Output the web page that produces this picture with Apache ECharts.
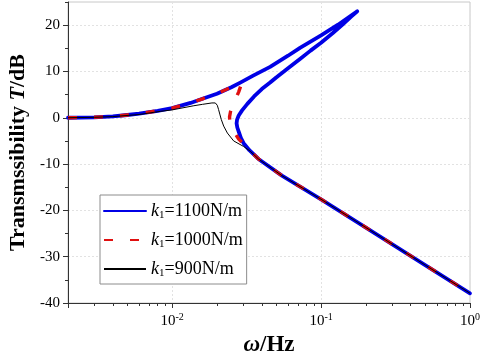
<!DOCTYPE html>
<html>
<head>
<meta charset="utf-8">
<script src="https://cdn.jsdelivr.net/npm/echarts@6/dist/echarts.min.js"></script>
<style>html,body{margin:0;padding:0;background:#fff}#c{width:489px;height:357px}</style>
</head>
<body>
<div id="c"></div>
<script>
// k1 = 1100 N/m : upper branch out to the tip, then back along the inner branch and down the lower branch
const blueX = [0.002,0.003,0.004,0.005,0.006,0.008,0.010,0.0133,0.016,0.020,0.025,0.0287,0.035,0.0455,0.060,0.0722,0.100,0.130,0.155,0.175,
               0.160,0.140,0.120,0.100,0.085,0.0722,0.060,0.050,0.0455,0.040,0.0355,0.032,0.0295,0.0280,0.0273,0.0271,0.0274,0.0280,0.0290,0.0302,0.033,0.038,0.0546,0.100,0.200,0.500,1.0];
const blueY = [0.0,0.1,0.3,0.6,0.9,1.5,2.1,3.2,4.1,5.2,6.6,7.6,9.1,11.0,13.4,15.1,17.8,20.1,21.8,23.0,
               21.9,20.2,18.3,16.2,14.5,12.7,10.7,8.7,7.6,6.2,4.6,3.0,1.6,0.5,-0.4,-1.2,-2.1,-3.0,-4.4,-5.5,-7.0,-8.9,-12.5,-17.6,-23.7,-31.8,-37.9];
// k1 = 1000 N/m
const redX = [0.002,0.003,0.004,0.005,0.006,0.008,0.010,0.0133,0.016,0.020,0.025,0.0287,0.0296,
              0.0290,0.0280,0.0268,0.0256,0.0247,0.0243,0.0244,0.0250,0.0262,0.0280,0.0302,0.038,0.0546,0.100,0.200,0.500,1.0];
const redY = [0.0,0.1,0.3,0.6,0.9,1.5,2.1,3.2,4.1,5.2,6.6,7.6,8.0,
              7.0,5.6,4.2,2.8,1.4,0.2,-0.8,-1.8,-3.2,-4.6,-5.7,-8.9,-12.5,-17.6,-23.7,-31.8,-37.9];
// k1 = 900 N/m
const blackX = [0.002,0.003,0.004,0.006,0.0084,0.010,0.0140,0.016,0.0185,0.0195,0.0201,0.0205,0.0209,0.0214,0.0222,0.0235,0.0259,0.0302,0.0334,0.038,0.0546,0.100,0.200,0.500,1.0];
const blackY = [0.0,0.1,0.25,0.7,1.4,1.7,2.6,2.9,3.2,3.2,2.7,1.8,0.8,-0.4,-1.8,-3.3,-5.0,-6.2,-7.2,-8.9,-12.5,-17.6,-23.7,-31.8,-37.9];

const seriesNames = ['k1=1100N/m','k1=1000N/m','k1=900N/m'];
const yTicks = [-40,-30,-20,-10,0,10,20];

function pairs(xs, ys){ return xs.map((x,i)=>[x, ys[i]]); }

const serif = 'Liberation Serif';
const chart = echarts.init(document.getElementById('c'), null, {renderer:'canvas'});
chart.setOption({
  animation:false,
  backgroundColor:'#fff',
  grid:{left:68,right:19,top:2,bottom:54,containLabel:false,outerBoundsMode:'none',show:true,borderColor:'#c8c8c8',borderWidth:1},
  legend:{
    data:seriesNames,
    orient:'vertical', left:100, top:195,
    itemWidth:42, itemHeight:14, itemGap:9,
    padding:[6,4,5,3],
    borderColor:'#8c8c8c', borderWidth:1, backgroundColor:'#fff',
    itemStyle:{opacity:0},
    formatter:function(n){ return '{i|k}{s|1}{t|=' + n.split('=')[1] + '}'; },
    textStyle:{color:'#000',fontFamily:serif,fontSize:18,
      rich:{
        i:{fontFamily:serif,fontStyle:'italic',fontSize:18,color:'#000',lineHeight:20},
        s:{fontFamily:serif,fontSize:11,color:'#000',verticalAlign:'bottom',padding:[9,0,0,0],lineHeight:20},
        t:{fontFamily:serif,fontSize:18,color:'#000',lineHeight:20}
      }}
  },
  xAxis:{
    type:'log', logBase:10, min:0.002, max:1,
    name:'{w|ω}{h|/Hz}', nameLocation:'middle', nameGap:24,
    nameTextStyle:{rich:{
      w:{fontFamily:serif,fontStyle:'italic',fontWeight:'bold',fontSize:23,color:'#000'},
      h:{fontFamily:serif,fontWeight:'bold',fontSize:23,color:'#000'}}},
    axisLine:{onZero:false,lineStyle:{color:'#333',width:1}},
    axisTick:{show:true,inside:false,length:5,lineStyle:{color:'#333'}},
    minorTick:{show:true,splitNumber:9,length:3,lineStyle:{color:'#333'}},
    axisLabel:{margin:9,showMinLabel:false,color:'#000',fontFamily:serif,fontSize:15,
      formatter:function(v){ const l=Math.log10(v); const e=Math.round(l); if(Math.abs(l-e)>1e-6) return ''; return '10{sup|'+e+'}'; },
      rich:{sup:{fontFamily:serif,fontSize:10,color:'#000',verticalAlign:'top',padding:[0,0,9,0]}}},
    splitLine:{show:true,lineStyle:{color:'#e2e2e2',type:[2,2],width:1}}
  },
  yAxis:[{
    type:'value', min:-40, max:25, interval:10,
    name:'{b|Transmssibility }{t|T}{b|/dB}', nameLocation:'middle', nameGap:39,
    nameTextStyle:{rich:{
      b:{fontFamily:serif,fontWeight:'bold',fontSize:22,color:'#000'},
      t:{fontFamily:serif,fontWeight:'bold',fontStyle:'italic',fontSize:22,color:'#000'}}},
    axisLine:{show:true,onZero:false,lineStyle:{color:'#333',width:1}},
    axisTick:{show:true,inside:false,length:5,lineStyle:{color:'#333'},customValues:yTicks},
    axisLabel:{margin:8,color:'#000',fontFamily:serif,fontSize:15,customValues:yTicks},
    splitLine:{show:true,lineStyle:{color:'#e2e2e2',type:[2,2],width:1}}
  },{
    type:'value', min:-40, max:25, interval:5, position:'left',
    axisLine:{show:false}, axisLabel:{show:false}, splitLine:{show:false},
    axisTick:{show:true,inside:false,length:3,lineStyle:{color:'#333'}}
  }],
  series:[
    {name:seriesNames[0],type:'line',data:pairs(blueX,blueY),showSymbol:false,symbol:'none',smooth:false,
     lineStyle:{color:'#0000e6',width:3.8,cap:'round',join:'round'},itemStyle:{color:'#0000e6'},z:2},
    {name:seriesNames[1],type:'line',data:pairs(redX,redY),showSymbol:false,symbol:'none',smooth:false,
     lineStyle:{color:'#e01010',width:3.4,type:[9,17],join:'round'},itemStyle:{color:'#e01010'},z:3},
    {name:seriesNames[2],type:'line',data:pairs(blackX,blackY),showSymbol:false,symbol:'none',smooth:false,
     lineStyle:{color:'#000',width:1,join:'round'},itemStyle:{color:'#000'},z:4}
  ]
});
</script>
</body>
</html>
